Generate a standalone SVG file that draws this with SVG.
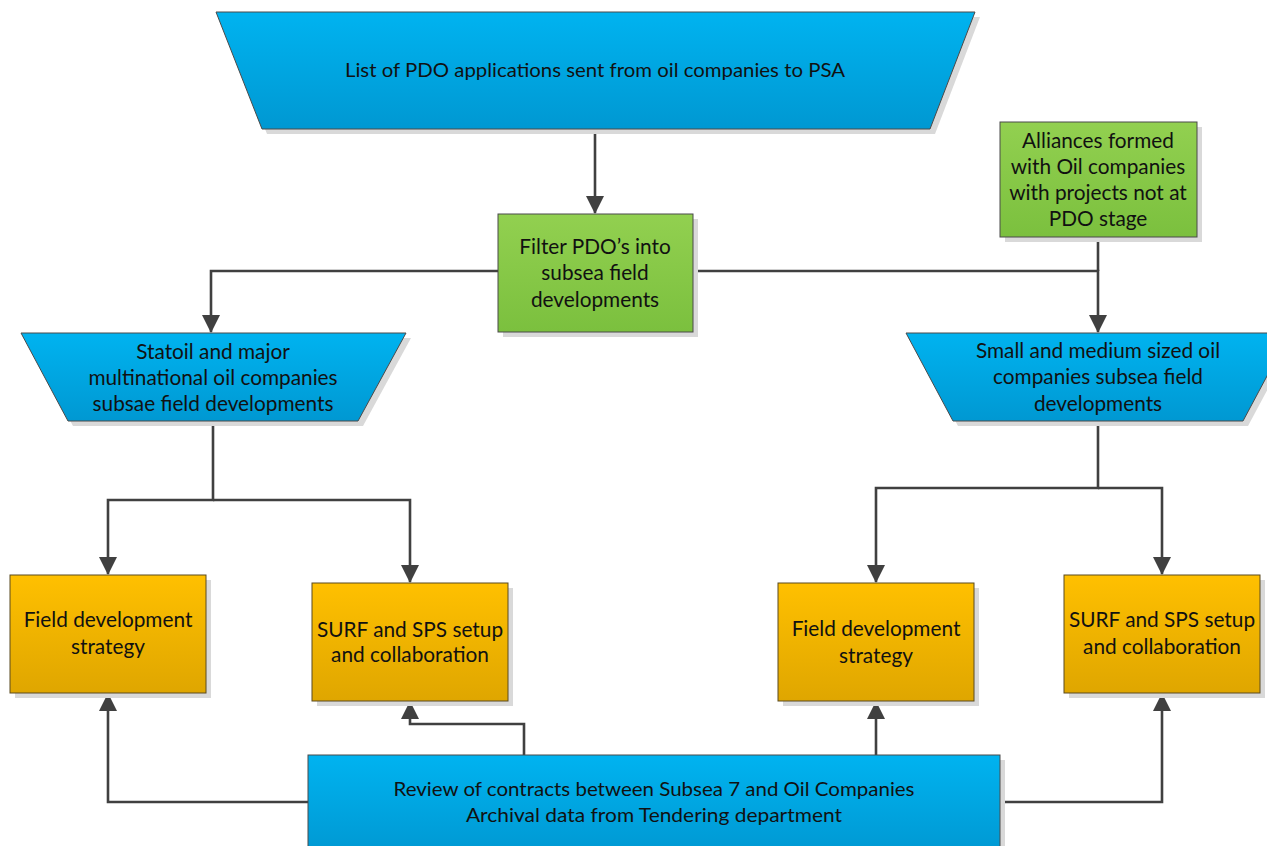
<svg xmlns="http://www.w3.org/2000/svg" width="1267" height="846" viewBox="0 0 1267 846">
  <defs>
    <linearGradient id="gBlue" x1="0" y1="0" x2="0" y2="1">
      <stop offset="0" stop-color="#00B3F0"/>
      <stop offset="1" stop-color="#0098D2"/>
    </linearGradient>
    <linearGradient id="gGreen" x1="0" y1="0" x2="0" y2="1">
      <stop offset="0" stop-color="#92D050"/>
      <stop offset="1" stop-color="#7BC03E"/>
    </linearGradient>
    <linearGradient id="gOrange" x1="0" y1="0" x2="0" y2="1">
      <stop offset="0" stop-color="#FFC000"/>
      <stop offset="1" stop-color="#DFA600"/>
    </linearGradient>
    <marker id="arrow" viewBox="0 0 18 18" refX="17" refY="9" markerWidth="18" markerHeight="18" markerUnits="userSpaceOnUse" orient="auto">
      <path d="M0,0 L18,9 L0,18 Z" fill="#404040"/>
    </marker>
  </defs>
  <style>
    .shadow { fill: #d9d9d9; }
    .blue { fill: url(#gBlue); stroke: #4a4a4a; stroke-width: 1; }
    .green { fill: url(#gGreen); stroke: #4a4a4a; stroke-width: 1; }
    .orange { fill: url(#gOrange); stroke: #5a4a20; stroke-width: 1; }
    text { font-family: Lato, "Liberation Sans", sans-serif; font-size: 20.8px; fill: #111; text-anchor: middle; }
    .cond { font-size: 20px; }
    .conn { fill: none; stroke: #404040; stroke-width: 2.6; }
  </style>

  <rect width="1267" height="846" fill="#ffffff"/>

  <!-- Connectors -->
  <g id="connectors">
    <path class="conn" d="M595,129 V213" marker-end="url(#arrow)"/>
    <path class="conn" d="M498,271 H211 V332" marker-end="url(#arrow)"/>
    <path class="conn" d="M693,271 H1098 V332" marker-end="url(#arrow)"/>
    <path class="conn" d="M1098,237 V271"/>
    <path class="conn" d="M213,421 V500 H108 V574" marker-end="url(#arrow)"/>
    <path class="conn" d="M213,500 H410 V582" marker-end="url(#arrow)"/>
    <path class="conn" d="M1098,421 V488 H876 V582" marker-end="url(#arrow)"/>
    <path class="conn" d="M1098,488 H1162 V574" marker-end="url(#arrow)"/>
    <path class="conn" d="M308,802 H108 V694" marker-end="url(#arrow)"/>
    <path class="conn" d="M524,755 V724 H410 V702" marker-end="url(#arrow)"/>
    <path class="conn" d="M876,755 V702" marker-end="url(#arrow)"/>
    <path class="conn" d="M1000,802 H1162 V694" marker-end="url(#arrow)"/>
  </g>

  <!-- Top: list of PDO applications -->
  <g id="pdo-list">
    <polygon class="shadow" points="221,17 980,17 935,134 267,134"/>
    <polygon class="blue" points="216,12 975,12 930,129 262,129"/>
    <text class="cond" x="595" y="77" textLength="500" lengthAdjust="spacingAndGlyphs">List of PDO applications sent from oil companies to PSA</text>
  </g>

  <!-- Filter PDOs -->
  <g id="filter">
    <rect class="shadow" x="503" y="219" width="195" height="118"/>
    <rect class="green" x="498" y="214" width="195" height="118"/>
    <text x="595" y="254">Filter PDO’s into</text>
    <text x="595" y="280">subsea field</text>
    <text x="595" y="307">developments</text>
  </g>

  <!-- Alliances -->
  <g id="alliances">
    <rect class="shadow" x="1005" y="127" width="197" height="115"/>
    <rect class="green" x="1000" y="122" width="197" height="115"/>
    <text x="1098" y="148">Alliances formed</text>
    <text x="1098" y="174">with Oil companies</text>
    <text x="1098" y="200">with projects not at</text>
    <text x="1098" y="226">PDO stage</text>
  </g>

  <!-- Statoil and majors -->
  <g id="majors">
    <polygon class="shadow" points="26,338 411,338 363,426 73,426"/>
    <polygon class="blue" points="21,333 406,333 358,421 68,421"/>
    <text x="213" y="359">Statoil and major</text>
    <text x="213" y="385">multinational oil companies</text>
    <text x="213" y="411">subsae field developments</text>
  </g>

  <!-- Small and medium -->
  <g id="small-medium">
    <polygon class="shadow" points="911,338 1295,338 1248,426 958,426"/>
    <polygon class="blue" points="906,333 1290,333 1243,421 953,421"/>
    <text x="1098" y="358">Small and medium sized oil</text>
    <text x="1098" y="384">companies subsea field</text>
    <text x="1098" y="411">developments</text>
  </g>

  <!-- Left field development strategy -->
  <g id="fds-left">
    <rect class="shadow" x="15" y="580" width="196" height="118"/>
    <rect class="orange" x="10" y="575" width="196" height="118"/>
    <text x="108" y="627">Field development</text>
    <text x="108" y="654">strategy</text>
  </g>

  <!-- Left SURF and SPS -->
  <g id="surf-left">
    <rect class="shadow" x="317" y="588" width="196" height="118"/>
    <rect class="orange" x="312" y="583" width="196" height="118"/>
    <text x="410" y="637">SURF and SPS setup</text>
    <text x="410" y="662">and collaboration</text>
  </g>

  <!-- Right field development strategy -->
  <g id="fds-right">
    <rect class="shadow" x="783" y="588" width="196" height="118"/>
    <rect class="orange" x="778" y="583" width="196" height="118"/>
    <text x="876" y="636">Field development</text>
    <text x="876" y="663">strategy</text>
  </g>

  <!-- Right SURF and SPS -->
  <g id="surf-right">
    <rect class="shadow" x="1069" y="580" width="196" height="118"/>
    <rect class="orange" x="1064" y="575" width="196" height="118"/>
    <text x="1162" y="627">SURF and SPS setup</text>
    <text x="1162" y="654">and collaboration</text>
  </g>

  <!-- Contract review -->
  <g id="review">
    <rect class="shadow" x="313" y="760" width="692" height="100"/>
    <rect class="blue" x="308" y="755" width="692" height="100"/>
    <text class="cond" x="654" y="796" textLength="521" lengthAdjust="spacingAndGlyphs">Review of contracts between Subsea 7 and Oil Companies</text>
    <text class="cond" x="654" y="822" textLength="376" lengthAdjust="spacingAndGlyphs">Archival data from Tendering department</text>
  </g>
</svg>
